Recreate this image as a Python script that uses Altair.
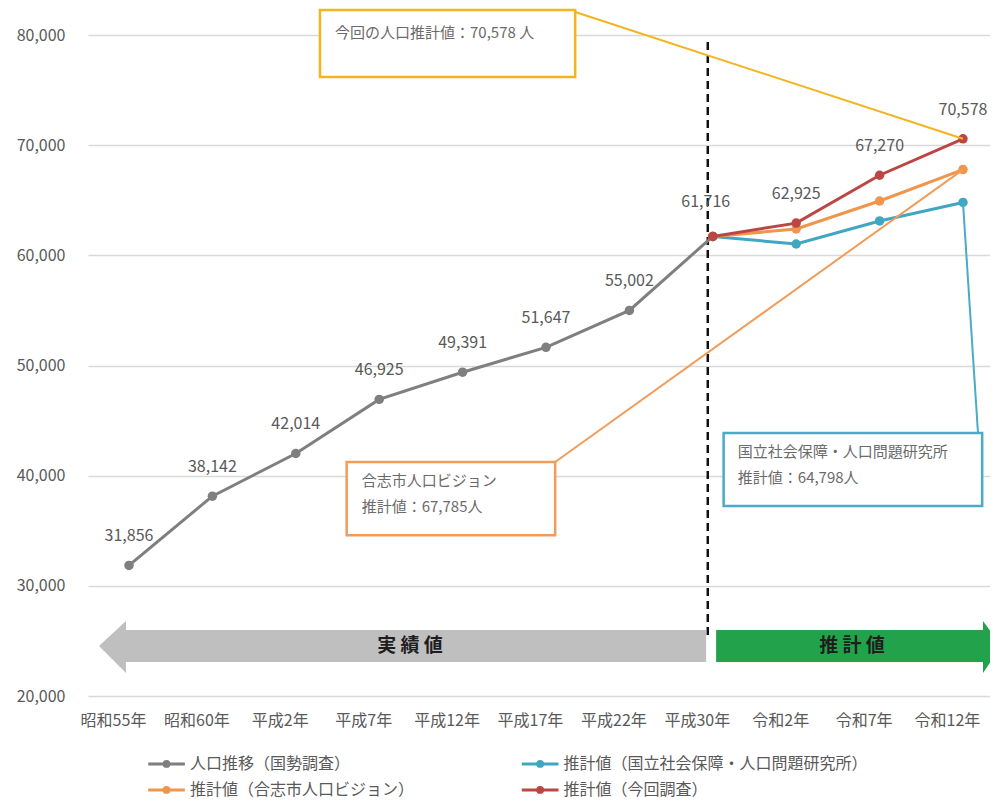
import json
import altair as alt
import pandas as pd

FONT = "Noto Sans CJK JP"

# ---------------- data ----------------
categories = ["昭和55年", "昭和60年", "平成2年", "平成7年", "平成12年", "平成17年",
              "平成22年", "平成30年", "令和2年", "令和7年", "令和12年"]
actual_values = [31856, 38142, 42014, 46925, 49391, 51647, 55002, 61716]   # idx 0..7
est_ipss = [61716, 61030, 63120, 64798]        # idx 7..10 国立社会保障・人口問題研究所
est_vision = [61716, 62390, 64930, 67785]      # idx 7..10 合志市人口ビジョン
est_current = [61716, 62925, 67270, 70578]     # idx 7..10 今回調査
series_names = ["人口推移（国勢調査）", "推計値（国立社会保障・人口問題研究所）",
                "推計値（合志市人口ビジョン）", "推計値（今回調査）"]
series_colors = ["#7f7f7f", "#41a6c2", "#f0954a", "#bc4643"]
y_ticks = [20000, 30000, 40000, 50000, 60000, 70000, 80000]

# callouts (anchored in category-index / population units)
callout_texts = [["今回の人口推計値：70,578 人"],
                 ["合志市人口ビジョン", "推計値：67,785人"],
                 ["国立社会保障・人口問題研究所", "推計値：64,798人"]]
callout_colors = ["#f4b41f", "#f19c59", "#4aabc5"]
callout_x = [2.29, 2.61, 7.13]
callout_x2 = [5.35, 5.11, 10.23]
callout_top = [82270, 41240, 43870]
callout_bottom = [76190, 34600, 37250]
callout_text_x = [2.47, 2.79, 7.30]
callout_text_y = [[80180], [39520, 37160], [42150, 39790]]
leader_from = [(5.35, 82090), (5.11, 41240), (10.18, 43870)]
leader_to = [(10, 70578), (10, 67785), (10, 64798)]

# phase arrows
arrow_labels = ["実 績 値", "推 計 値"]
arrow_colors = ["#bfbfbf", "#22a34b"]
arrow_body_x = [-0.036, 7.04]
arrow_body_x2 = [6.92, 10.24]
arrow_body_y = [25990, 25990]
arrow_body_y2 = [23090, 23090]
arrow_head_base = [-0.036, 10.24]
arrow_head_tip = [-0.36, 10.46]
arrow_head_top = 26810
arrow_head_bottom = 22090
arrow_mid = 24540
arrow_label_x = [3.37, 8.67]

divider_x = 6.94
divider_top = 79370
divider_bottom = 25360

legend_rows = [13830, 11470]
legend_cols = [0.23, 4.71]
legend_sym_len = 0.44
legend_gap = 0.06

# ---------------- scales ----------------
xscale = alt.Scale(domain=[-0.4916, 10.324], nice=False, zero=False)
yscale = alt.Scale(domain=[20000, 80000], nice=False, zero=False)
label_expr = json.dumps(categories, ensure_ascii=False) + "[datum.value]"

x_axis = alt.Axis(values=list(range(len(categories))), labelExpr=label_expr,
                  grid=False, domain=False, ticks=False, tickSize=0,
                  labelPadding=16, labelOffset=-16, labelFont=FONT, labelFontSize=16,
                  labelColor="#595959", title=None)
y_axis = alt.Axis(values=y_ticks, labelExpr="format(datum.value, ',')", grid=True,
                  gridColor="#d9d9d9", gridWidth=1.5, domain=False, ticks=False, tickSize=0,
                  labelPadding=23, labelFont=FONT, labelFontSize=16,
                  labelColor="#595959", title=None)
Xn = lambda f: alt.X(f, type="quantitative", scale=xscale, axis=x_axis)
Yn = lambda f: alt.Y(f, type="quantitative", scale=yscale, axis=y_axis)

layers = []

rows = []
for i, v in enumerate(actual_values):
    rows.append({"series": series_names[0], "idx": i, "value": v})
for name, vals in zip(series_names[1:], [est_ipss, est_vision, est_current]):
    for j, v in enumerate(vals):
        rows.append({"series": name, "idx": 7 + j, "value": v})
series_df = pd.DataFrame(rows)

# arrows
arrow_df = pd.DataFrame({"x": arrow_body_x, "x2": arrow_body_x2, "y": arrow_body_y,
                         "y2": arrow_body_y2, "c": arrow_colors})
layers.append(alt.Chart(arrow_df).mark_rect().encode(
    x=Xn("x"), x2="x2", y=Yn("y"), y2="y2", color=alt.Color("c:N", scale=None)))
for k in range(2):
    head_df = pd.DataFrame({"x": [arrow_head_tip[k], arrow_head_base[k]],
                            "y": [arrow_mid, arrow_head_top],
                            "y2": [arrow_mid, arrow_head_bottom]})
    layers.append(alt.Chart(head_df).mark_area(color=arrow_colors[k], orient="vertical").encode(
        x=Xn("x"), y=Yn("y"), y2="y2"))
arrow_text_df = pd.DataFrame({"x": arrow_label_x, "y": [arrow_mid] * 2, "t": arrow_labels})
layers.append(alt.Chart(arrow_text_df).mark_text(font=FONT, fontSize=19, fontWeight="bold",
                                                 color="#1e1e1e", align="center",
                                                 baseline="middle").encode(
    x=Xn("x"), y=Yn("y"), text="t:N"))

# divider
div_df = pd.DataFrame({"x": [divider_x], "y": [divider_top], "y2": [divider_bottom]})
layers.append(alt.Chart(div_df).mark_rule(color="#111111", strokeWidth=2.5,
                                          strokeDash=[8, 5]).encode(
    x=Xn("x"), y=Yn("y"), y2="y2"))

# series lines + points
for name, col in zip(series_names, series_colors):
    sub = series_df[series_df.series == name]
    base = alt.Chart(sub)
    layers.append(base.mark_line(color=col, strokeWidth=3).encode(x=Xn("idx"), y=Yn("value")))
    layers.append(base.mark_point(color=col, filled=True, opacity=1, size=90).encode(
        x=Xn("idx"), y=Yn("value")))

# data labels
label_idx = list(range(len(actual_values))) + [8, 9, 10]
label_vals = actual_values + est_current[1:]
lab_df = pd.DataFrame({"idx": label_idx, "value": label_vals})
layers.append(alt.Chart(lab_df[lab_df.idx != 7]).mark_text(
    font=FONT, fontSize=16, color="#595959", dy=-29).encode(
    x=Xn("idx"), y=Yn("value"), text=alt.Text("value:Q", format=",")))
layers.append(alt.Chart(lab_df[lab_df.idx == 7]).mark_text(
    font=FONT, fontSize=16, color="#595959", dy=-34, dx=-7).encode(
    x=Xn("idx"), y=Yn("value"), text=alt.Text("value:Q", format=",")))

# callouts
lead_df = pd.DataFrame({"x": [a[0] for a in leader_from], "y": [a[1] for a in leader_from],
                        "x2": [b[0] for b in leader_to], "y2": [b[1] for b in leader_to],
                        "c": callout_colors})
layers.append(alt.Chart(lead_df).mark_rule(strokeWidth=2).encode(
    x=Xn("x"), y=Yn("y"), x2="x2", y2="y2", color=alt.Color("c:N", scale=None)))
box_df = pd.DataFrame({"x": callout_x, "x2": callout_x2, "y": callout_top,
                       "y2": callout_bottom, "c": callout_colors})
layers.append(alt.Chart(box_df).mark_rect(fill="white", strokeWidth=2.5).encode(
    x=Xn("x"), x2="x2", y=Yn("y"), y2="y2", stroke=alt.Stroke("c:N", scale=None)))
ct_rows = []
for k, lines in enumerate(callout_texts):
    for line, yy in zip(lines, callout_text_y[k]):
        ct_rows.append({"x": callout_text_x[k], "y": yy, "t": line})
layers.append(alt.Chart(pd.DataFrame(ct_rows)).mark_text(
    font=FONT, fontSize=15, color="#6b6b6b", align="left", baseline="middle").encode(
    x=Xn("x"), y=Yn("y"), text="t:N"))

# legend (drawn)
leg_rows = []
for k, (name, col) in enumerate(zip(series_names, series_colors)):
    r, c = k // 2, k % 2
    x0 = legend_cols[c]
    leg_rows.append({"x": x0, "x2": x0 + legend_sym_len, "xm": x0 + legend_sym_len / 2,
                     "xt": x0 + legend_sym_len + legend_gap, "y": legend_rows[r],
                     "t": name, "c": col})
leg_df = pd.DataFrame(leg_rows)
layers.append(alt.Chart(leg_df).mark_rule(strokeWidth=3).encode(
    x=Xn("x"), x2="x2", y=Yn("y"), color=alt.Color("c:N", scale=None)))
layers.append(alt.Chart(leg_df).mark_point(filled=True, opacity=1, size=60).encode(
    x=Xn("xm"), y=Yn("y"), color=alt.Color("c:N", scale=None)))
layers.append(alt.Chart(leg_df).mark_text(font=FONT, fontSize=16, color="#595959",
                                          align="left", baseline="middle").encode(
    x=Xn("xt"), y=Yn("y"), text="t:N"))

chart = alt.layer(*layers).properties(
    width=902, height=661,
    autosize=alt.AutoSizeParams(type="none"),
    padding={"left": 80, "top": 27, "right": 0, "bottom": 104},
    background="white",
).configure_view(stroke=None)

chart.save("out.html", embed_options={"renderer": "svg", "actions": False})
